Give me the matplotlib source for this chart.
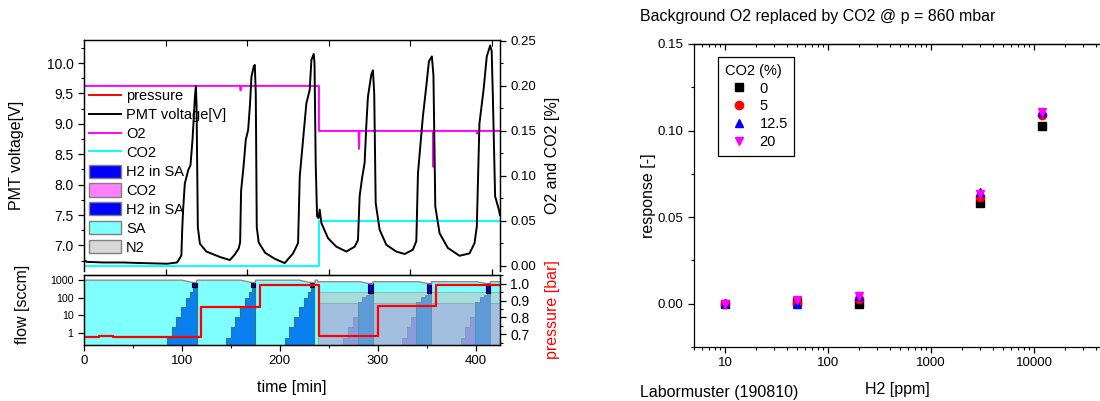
import numpy as np
import matplotlib
matplotlib.use("Agg")
from matplotlib import pyplot as plt
from matplotlib.lines import Line2D
from matplotlib.patches import Patch
from matplotlib.ticker import MultipleLocator, FixedLocator, FormatStrFormatter, NullFormatter, LogLocator

plt.rcParams['font.family'] = ['Liberation Sans', 'DejaVu Sans']

# PMT voltage trace (time [min], voltage [V])
pmt_t = [0, 3, 20, 40, 60, 85, 95, 97.5, 99.5, 100.3, 101.3, 103, 106.5, 108.8, 110.9, 113.3, 114.3, 115.0,
         116.3, 118.4, 125, 139, 149, 154, 158, 159.5, 160.5, 163, 165.3, 167.7, 169.5, 171.1, 173.5, 174.5,
         175.5, 176.5, 178.5, 185, 195, 205, 213.6, 218.7, 220.4, 223.8, 227.2, 230.6, 232.3, 234.7, 235.5,
         236.7, 238.1, 239.5, 240.8, 242.5, 249.3, 257.8, 268, 276.5, 279.9, 281.6, 284, 286.7, 288.5, 290.1,
         293.5, 295.2, 296.5, 298, 302, 308.9, 319, 327.6, 336, 339.5, 341.2, 346.2, 349.7, 352.4, 355.4, 357,
         358.9, 363.3, 371.7, 383.7, 393.9, 399, 401.3, 404, 408.2, 411.5, 415, 416.5, 417.7, 420, 423.8, 425]
pmt_v = [6.76, 6.73, 6.72, 6.72, 6.71, 6.70, 6.72, 6.78, 6.84, 7.25, 7.6, 8.02, 8.24, 8.32, 8.75, 9.44, 9.62, 9.3,
         7.3, 7.03, 6.9, 6.81, 6.76, 6.85, 6.95, 7.05, 7.9, 8.3, 8.74, 8.9, 9.3, 9.78, 9.95, 9.97,
         9.5, 7.3, 7.05, 6.88, 6.78, 6.71, 6.87, 7.04, 8.13, 8.74, 9.34, 9.56, 10.05, 10.15, 10.0,
         8.36, 7.48, 7.45, 7.59, 7.37, 7.12, 6.98, 6.90, 6.98, 7.09, 7.81, 8.1, 8.36, 9.0, 9.45,
         9.81, 9.88, 9.5, 7.70, 7.26, 7.01, 6.90, 6.86, 6.93, 7.07, 8.19, 9.12, 9.62, 10.03, 10.11, 9.8,
         7.64, 7.2, 6.96, 6.83, 6.87, 7.04, 7.31, 9.01, 9.56, 10.11, 10.29, 10.2, 9.45, 7.81, 7.59, 7.5]

# O2 and CO2 [%]
o2_t = [0, 159.5, 160, 160.5, 240, 240, 280.5, 281, 281.5, 356.5, 357, 357.5, 401, 401.5, 402, 425]
o2_v = [0.2, 0.2, 0.195, 0.2, 0.2, 0.15, 0.15, 0.13, 0.15, 0.15, 0.11, 0.15, 0.15, 0.147, 0.15, 0.15]
co2_t = [0, 240, 240, 425]
co2_v = [0, 0, 0.05, 0.05]

# pressure [bar]
p_t = [0, 15, 30, 120, 180, 240, 300, 360, 425]
p_v = [0.684, 0.687, 0.684, 0.86, 0.99, 0.69, 0.867, 0.995, 0.995]

# flows [sccm]
cycle_starts = [85, 145, 205, 265, 325, 385]
step_offsets = [0, 4.7, 9.5, 14.5, 19.5, 23.5, 26.5, 30]
h2_levels_sa = [0.5, 2, 8, 30, 100, 200, 450]
h2_levels_co2 = [0.5, 2, 8, 60, 110, 150, 180]
sa_top_t = [0, 100, 110, 115, 115.2, 160, 170, 175, 175.2, 220, 230, 236, 236.2, 238.6, 238.8,
            282, 292, 295, 295.2, 342, 352, 355, 355.2, 402, 412, 415, 415.2, 425]
sa_top_v = [1000, 1000, 760, 720, 1000, 1000, 760, 720, 1000, 1000, 760, 720, 1000, 1000, 820,
            820, 620, 600, 820, 820, 620, 600, 820, 820, 620, 600, 820, 820]

# response vs H2
h2_ppm = [10, 50, 200, 3000, 12000]
co2_pct = ['0', '5', '12.5', '20']
resp_0 = [0.0, 0.001, 0.0, 0.058, 0.1025]
resp_5 = [0.0, 0.0005, 0.003, 0.0615, 0.109]
resp_12_5 = [0.0005, 0.0, 0.0045, 0.0645, 0.111]
resp_20 = [0.0, 0.002, 0.0045, 0.0635, 0.1105]

W, H = 1100, 401
fig = plt.figure(figsize=(11, 4.01), dpi=100)
ax1 = fig.add_axes([84 / W, 1 - 271 / H, 416 / W, 231 / H])
ax2 = fig.add_axes([84 / W, 1 - 345 / H, 416 / W, 70 / H])
ax3 = fig.add_axes([694 / W, 1 - 347 / H, 406 / W, 303 / H])

tick_kw = dict(direction='out', length=4, width=0.9)
minor_kw = dict(direction='out', length=2.2, width=0.8)
top_ticks = np.arange(1, 6) * 5000 / 60.0

# ---- top panel
ax1r = ax1.twinx()
ax1.set_zorder(ax1r.get_zorder() + 1)
ax1.patch.set_visible(False)
ax1.plot(pmt_t, pmt_v, color='black', lw=1.4)
ax1r.plot(o2_t, o2_v, color='#FF00FF', lw=1.4)
ax1r.plot(co2_t, co2_v, color='#00FFFF', lw=1.4)
ax1.set_xlim(0, 425)
ax1.set_ylim(6.58, 10.38)
ax1r.set_ylim(-0.0056, 0.251)
for a in (ax1, ax1r):
    a.spines['bottom'].set_visible(False)
    for s in a.spines.values():
        s.set_linewidth(0.9)
ax1.set_xticks(top_ticks)
ax1.tick_params(axis='x', bottom=False, labelbottom=False, top=True, direction='in', length=4)
ax1.yaxis.set_major_locator(MultipleLocator(0.5))
ax1.yaxis.set_minor_locator(MultipleLocator(0.25))
ax1.yaxis.set_major_formatter(FormatStrFormatter('%.1f'))
ax1.tick_params(axis='y', which='major', labelsize=10, **tick_kw)
ax1.tick_params(axis='y', which='minor', **minor_kw)
ax1r.yaxis.set_major_locator(MultipleLocator(0.05))
ax1r.yaxis.set_minor_locator(MultipleLocator(0.025))
ax1r.yaxis.set_major_formatter(FormatStrFormatter('%.2f'))
ax1r.tick_params(axis='y', which='major', labelsize=9.5, **tick_kw)
ax1r.tick_params(axis='y', which='minor', **minor_kw)
ax1.set_ylabel('PMT voltage[V]', fontsize=11.5)
ax1.yaxis.set_label_coords((24 - 84) / 416, 0.5)
ax1r.set_ylabel('O2 and CO2 [%]', fontsize=11.5, labelpad=6)

handles = [Line2D([], [], color='red', lw=1.4), Line2D([], [], color='black', lw=1.4),
           Line2D([], [], color='#FF00FF', lw=1.4), Line2D([], [], color='#00FFFF', lw=1.4),
           Patch(facecolor='#0000FF', edgecolor='#808080'), Patch(facecolor='#FF80FF', edgecolor='#808080'),
           Patch(facecolor='#0000FF', edgecolor='#808080'), Patch(facecolor='#80FFFF', edgecolor='#808080'),
           Patch(facecolor='#D8D8D8', edgecolor='#808080')]
labels = ['pressure', 'PMT voltage[V]', 'O2', 'CO2', 'H2 in SA', 'CO2', 'H2 in SA', 'SA', 'N2']
ax1.legend(handles, labels, loc='upper left', bbox_to_anchor=(0.012, 0.788), frameon=False,
           fontsize=10.5, handlelength=2.2, handleheight=1.0, labelspacing=0.3,
           handletextpad=0.35, borderpad=0, borderaxespad=0)

# ---- bottom panel (flows)
fb = 0.2
ax2.set_yscale('log')
ax2.fill_between(sa_top_t, fb, sa_top_v, color='#80FFFF', lw=0)
ax2.plot(sa_top_t, sa_top_v, color='#8C8C8C', lw=1.0)
ax2.fill_between([238.6, 425], fb, 200, color='#A8DCDC', edgecolor='#7FAFAF', lw=0.6)
ax2.fill_between([238.6, 425], fb, 50, color='#A3BFDF', edgecolor='#7FAFAF', lw=0.6)
for k, s in enumerate(cycle_starts):
    ts = [s + o for o in step_offsets]
    if s < 238:
        lv = h2_levels_sa + [h2_levels_sa[-1]]
        ax2.fill_between(ts, fb, lv, step='post', color='#0A80F0', edgecolor='#2E7D7D', lw=0.8)
        ax2.fill_between([s + 25.5, s + 30], 400, 700, color='#0000C8', edgecolor='black', lw=0.8)
    else:
        lv = h2_levels_co2 + [h2_levels_co2[-1]]
        ax2.fill_between(ts[:4], fb, lv[:4], step='post', color='#8C9AE0', edgecolor='#7F9AB0', lw=0.6)
        ax2.fill_between(ts[3:], fb, lv[3:], step='post', color='#5C9AD8', edgecolor='#5F8FA8', lw=0.6)
        ax2.fill_between([s + 25.5, s + 30], 180, 680, color='#0000E0', edgecolor='black', lw=0.8)
ax2.set_xlim(0, 425)
ax2.set_ylim(0.2, 1980)
ax2.yaxis.set_major_locator(FixedLocator([1, 10, 100, 1000]))
ax2.yaxis.set_major_formatter(FormatStrFormatter('%d'))
ax2.yaxis.set_minor_locator(LogLocator(base=10, subs=np.arange(2, 10)))
ax2.yaxis.set_minor_formatter(NullFormatter())
ax2.xaxis.set_major_locator(MultipleLocator(100))
ax2.xaxis.set_minor_locator(MultipleLocator(50))
ax2.tick_params(axis='y', which='major', labelsize=7.7, **tick_kw)
ax2.tick_params(axis='y', which='minor', **minor_kw)
ax2.tick_params(axis='x', which='major', labelsize=9.5, **tick_kw)
ax2.tick_params(axis='x', which='minor', **minor_kw)
ax2top = ax2.secondary_xaxis('top')
ax2top.set_xticks(top_ticks)
ax2top.set_xticklabels([])
ax2top.tick_params(direction='out', length=4, width=0.9)
ax2.set_ylabel('flow [sccm]', fontsize=11.5)
ax2.yaxis.set_label_coords((30 - 84) / 416, 0.58)
ax2.set_xlabel('time [min]', fontsize=11.5, labelpad=9)

ax2r = ax2.twinx()
ax2r.step(p_t, p_v, where='post', color='#FF0000', lw=1.6)
ax2r.set_ylim(0.6365, 1.052)
ax2r.yaxis.set_major_locator(MultipleLocator(0.1))
ax2r.yaxis.set_minor_locator(MultipleLocator(0.05))
ax2r.yaxis.set_major_formatter(FormatStrFormatter('%.1f'))
ax2r.tick_params(axis='y', which='major', labelsize=10, **tick_kw)
ax2r.tick_params(axis='y', which='minor', **minor_kw)
ax2r.set_ylabel('pressure [bar]', fontsize=11.5, color='red', labelpad=11)
for a in (ax2, ax2r):
    for s in a.spines.values():
        s.set_linewidth(0.9)

# ---- right chart
ax3.set_xscale('log')
ax3.plot(h2_ppm, resp_0, 's', color='black', ms=5.5, label=co2_pct[0])
ax3.plot(h2_ppm, resp_5, 'o', color='red', ms=6, label=co2_pct[1])
ax3.plot(h2_ppm, resp_12_5, '^', color='blue', ms=6, label=co2_pct[2])
ax3.plot(h2_ppm, resp_20, 'v', color='#FF00FF', ms=6, label=co2_pct[3])
ax3.set_xlim(5, 43500)
ax3.set_ylim(-0.025, 0.15)
ax3.xaxis.set_major_locator(FixedLocator([10, 100, 1000, 10000]))
ax3.xaxis.set_major_formatter(FormatStrFormatter('%d'))
ax3.xaxis.set_minor_locator(LogLocator(base=10, subs=np.arange(2, 10)))
ax3.xaxis.set_minor_formatter(NullFormatter())
ax3.yaxis.set_major_locator(MultipleLocator(0.05))
ax3.yaxis.set_minor_locator(MultipleLocator(0.025))
ax3.yaxis.set_major_formatter(FormatStrFormatter('%.2f'))
ax3.tick_params(axis='both', which='major', labelsize=9.5, **tick_kw)
ax3.tick_params(axis='both', which='minor', **minor_kw)
ax3top = ax3.secondary_xaxis('top')
ax3top.xaxis.set_major_locator(FixedLocator([10, 100, 1000, 10000]))
ax3top.xaxis.set_minor_locator(LogLocator(base=10, subs=np.arange(2, 10)))
ax3top.xaxis.set_major_formatter(NullFormatter())
ax3top.xaxis.set_minor_formatter(NullFormatter())
ax3top.tick_params(which='major', direction='in', length=4, width=0.9)
ax3top.tick_params(which='minor', direction='in', length=2.2, width=0.8)
ax3top.spines['top'].set_linewidth(0.9)
ax3.spines['right'].set_visible(False)
for s in ax3.spines.values():
    s.set_linewidth(0.9)
ax3.set_xlabel('H2 [ppm]', fontsize=11.5, labelpad=9)
ax3.set_ylabel('response [-]', fontsize=11.5, labelpad=1)
leg = ax3.legend(title='CO2 (%)', loc='upper left', bbox_to_anchor=(0.059, 0.957), fontsize=10.5,
                 title_fontsize=10.5, fancybox=False, edgecolor='black', framealpha=1,
                 handlelength=2.0, handletextpad=0.4, labelspacing=0.27, borderpad=0.45,
                 borderaxespad=0, alignment='left')
leg.get_frame().set_linewidth(0.9)

fig.text(640 / W, 1 - 17 / H, 'Background O2 replaced by CO2 @ p = 860 mbar', fontsize=11.5, va='center')
fig.text(640 / W, 1 - 392 / H, 'Labormuster (190810)', fontsize=11.5, va='center')

fig.savefig('out.png', dpi=100)
